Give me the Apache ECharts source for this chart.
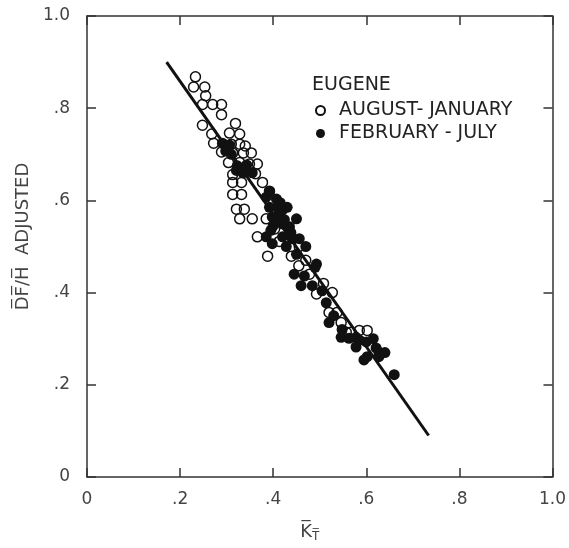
<!DOCTYPE html>
<html>
<head>
<meta charset="utf-8">
<script src="https://cdn.jsdelivr.net/npm/echarts@6/dist/echarts.min.js"></script>
<style>
  html, body { margin: 0; padding: 0; background: #fff; }
  #chart { width: 569px; height: 548px; }
</style>
</head>
<body>
<div id="chart"></div>
<script>
// KT vs DF/H adjusted, Eugene
const augustJanuary = [
  [0.233, 0.868], [0.229, 0.846], [0.253, 0.846], [0.255, 0.827], [0.248, 0.808],
  [0.270, 0.808], [0.289, 0.808], [0.289, 0.786], [0.248, 0.763], [0.319, 0.767],
  [0.268, 0.744], [0.306, 0.746], [0.328, 0.744], [0.272, 0.724], [0.310, 0.722],
  [0.328, 0.722], [0.340, 0.718], [0.289, 0.705], [0.313, 0.703], [0.336, 0.703],
  [0.353, 0.703], [0.304, 0.682], [0.328, 0.682], [0.349, 0.679], [0.366, 0.679],
  [0.313, 0.656], [0.313, 0.639], [0.332, 0.639], [0.377, 0.639], [0.313, 0.613],
  [0.332, 0.613], [0.321, 0.581], [0.338, 0.581], [0.328, 0.560], [0.355, 0.560],
  [0.366, 0.521], [0.385, 0.560], [0.388, 0.479], [0.392, 0.620], [0.362, 0.658],
  [0.439, 0.479], [0.456, 0.500], [0.478, 0.440], [0.493, 0.397], [0.527, 0.400],
  [0.520, 0.357], [0.537, 0.357], [0.546, 0.335], [0.557, 0.314], [0.567, 0.314],
  [0.585, 0.318], [0.602, 0.318], [0.413, 0.511], [0.403, 0.538], [0.470, 0.470],
  [0.508, 0.420], [0.430, 0.520], [0.455, 0.458]
];
const februaryJuly = [
  [0.291, 0.724], [0.306, 0.720], [0.298, 0.707], [0.323, 0.675], [0.343, 0.677],
  [0.321, 0.665], [0.355, 0.660], [0.385, 0.607], [0.392, 0.618], [0.407, 0.603],
  [0.392, 0.585], [0.409, 0.585], [0.430, 0.585], [0.420, 0.579], [0.409, 0.564],
  [0.398, 0.564], [0.424, 0.558], [0.450, 0.560], [0.420, 0.549], [0.435, 0.543],
  [0.385, 0.521], [0.420, 0.521], [0.441, 0.517], [0.456, 0.517], [0.398, 0.506],
  [0.428, 0.500], [0.450, 0.483], [0.493, 0.462], [0.445, 0.440], [0.467, 0.436],
  [0.460, 0.415], [0.484, 0.415], [0.505, 0.404], [0.514, 0.378], [0.520, 0.335],
  [0.546, 0.303], [0.563, 0.301], [0.578, 0.303], [0.585, 0.297], [0.600, 0.293],
  [0.621, 0.280], [0.627, 0.271], [0.602, 0.261], [0.595, 0.254], [0.627, 0.261],
  [0.578, 0.282], [0.660, 0.222], [0.400, 0.545], [0.470, 0.500], [0.490, 0.455],
  [0.530, 0.350], [0.615, 0.300], [0.640, 0.270], [0.548, 0.320], [0.310, 0.700],
  [0.335, 0.660], [0.415, 0.595], [0.438, 0.530], [0.395, 0.535]
];
const fitLine = [[0.171, 0.900], [0.734, 0.090]];

const seriesNames = ["AUGUST- JANUARY", "FEBRUARY - JULY"];

const font = "DejaVu Sans";
const ink = "#222";

const tickLabel = (v) => {
  if (v === 0) return "0";
  if (v >= 1) return "1.0";
  return v.toFixed(1).replace(/^0/, "");
};

const baseAxis = {
  type: "value",
  min: 0,
  max: 1,
  interval: 0.2,
  splitLine: { show: false },
  axisLine: { show: true, onZero: false, lineStyle: { color: "#333", width: 1.5 } },
  axisTick: { show: true, inside: true, length: 9, lineStyle: { color: "#333", width: 1.5 } },
};

const chart = echarts.init(document.getElementById("chart"));
chart.setOption({
  animation: false,
  backgroundColor: "#fff",
  textStyle: { fontFamily: font },
  grid: { left: 87, right: 15, top: 16, bottom: 64 },
  title: {
    text: "EUGENE",
    left: 312,
    top: 76,
    padding: 0,
    textStyle: { fontFamily: font, fontSize: 19, fontWeight: "normal", color: ink },
  },
  legend: {
    orient: "vertical",
    left: 315,
    top: 101,
    padding: 0,
    itemGap: 4,
    itemWidth: 9,
    itemHeight: 9,
    data: seriesNames,
    textStyle: { fontFamily: font, fontSize: 19, color: ink, padding: [0, 0, 0, 9] },
  },
  xAxis: [
    Object.assign({}, baseAxis, {
      position: "bottom",
      name: "{k|K\u0305}{t|T\u0305}",
      nameLocation: "middle",
      nameGap: 44,
      nameTextStyle: {
        padding: [0, 20, 0, 0],
        rich: {
          k: { fontFamily: font, fontSize: 18, color: "#444" },
          t: { fontFamily: font, fontSize: 12, color: "#444", padding: [10, 0, 0, 0] },
        },
      },
      axisLabel: { margin: 14, fontFamily: font, fontSize: 17, color: "#444", formatter: tickLabel },
    }),
    Object.assign({}, baseAxis, {
      position: "top",
      axisLabel: { show: false },
    }),
  ],
  yAxis: [
    Object.assign({}, baseAxis, {
      position: "left",
      name: "D\u0305F\u0305/H\u0305  ADJUSTED",
      nameLocation: "middle",
      nameGap: 55,
      nameTextStyle: { fontFamily: font, fontSize: 18, color: "#444", padding: [0, 0, 0, 20] },
      axisLabel: { margin: 17, fontFamily: font, fontSize: 17, color: "#444", formatter: tickLabel },
    }),
    Object.assign({}, baseAxis, {
      position: "right",
      axisLabel: { show: false },
    }),
  ],
  series: [
    {
      name: seriesNames[0],
      type: "scatter",
      data: augustJanuary,
      symbol: "circle",
      symbolSize: 10,
      itemStyle: { color: "rgba(255,255,255,0)", borderColor: "#111", borderWidth: 1.5, opacity: 1 },
    },
    {
      name: seriesNames[1],
      type: "scatter",
      data: februaryJuly,
      symbol: "circle",
      symbolSize: 11,
      itemStyle: { color: "#111", opacity: 1 },
    },
    {
      name: "fit",
      type: "line",
      data: fitLine,
      showSymbol: false,
      symbol: "none",
      lineStyle: { color: "#111", width: 3 },
    },
  ],
});
</script>
</body>
</html>
